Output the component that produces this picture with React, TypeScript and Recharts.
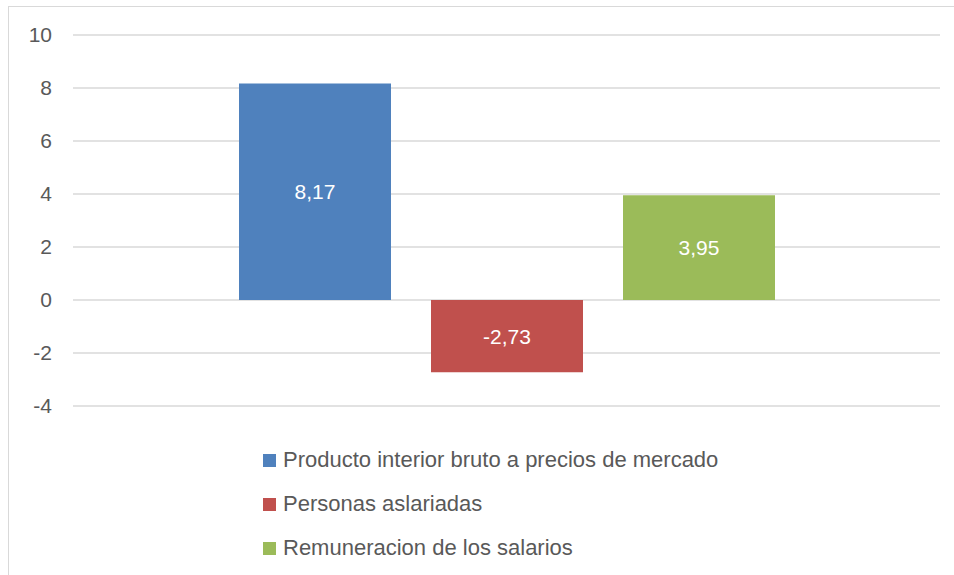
import React from 'react';
import { BarChart, Bar, XAxis, YAxis, CartesianGrid, Legend, LabelList } from 'recharts';

const categories = [''];
const seriesNames = [
  'Producto interior bruto a precios de mercado',
  'Personas aslariadas',
  'Remuneracion de los salarios',
];
const seriesValues = [8.17, -2.73, 3.95];
const seriesColors = ['#4F81BD', '#C0504D', '#9BBB59'];
const yTicks = [-4, -2, 0, 2, 4, 6, 8, 10];

const data = categories.map((c) => {
  const row: Record<string, any> = { name: c };
  seriesNames.forEach((s, i) => {
    row['s' + i] = seriesValues[i];
  });
  return row;
});

const FONT = '"Liberation Sans", Arial, sans-serif';

const fmt = (v: any) => String(v).replace('.', ',');

const LegendContent = (props: any) => {
  const payload = [...(props.payload || [])].sort(
    (a: any, b: any) => seriesNames.indexOf(a.value) - seriesNames.indexOf(b.value)
  );
  return (
    <div style={{ fontFamily: FONT }}>
      {payload.map((p: any, i: number) => (
        <div key={i} style={{ display: 'flex', alignItems: 'center', height: 44 }}>
          <div style={{ width: 13, height: 13, background: p.color, marginRight: 7 }} />
          <span style={{ fontSize: 22, color: '#595959' }}>{p.value}</span>
        </div>
      ))}
    </div>
  );
};

export default function App() {
  return (
    <div
      style={{
        position: 'absolute',
        left: 8,
        top: 6,
        width: 960,
        height: 580,
        border: '1px solid #d9d9d9',
        background: '#fff',
        boxSizing: 'border-box',
      }}
    >
      <BarChart
        width={946}
        height={567}
        data={data}
        margin={{ top: 28, right: 15, bottom: 168, left: 14 }}
        barSize={152}
        barGap={40}
        style={{ fontFamily: FONT }}
      >
        <CartesianGrid vertical={false} stroke="#d9d9d9" strokeWidth={1.5} />
        <XAxis dataKey="name" hide />
        <YAxis
          domain={[-4, 10]}
          ticks={yTicks}
          axisLine={false}
          tickLine={false}
          tickSize={0}
          tickMargin={21}
          width={50}
          interval={0}
          tick={{ fill: '#595959', fontSize: 21, fontFamily: FONT }}
        />
        <Legend
          layout="vertical"
          align="center"
          verticalAlign="middle"
          content={<LegendContent />}
          wrapperStyle={{ left: 254, top: 431, width: 650 }}
        />
        {seriesNames.map((s, i) => (
          <Bar key={s} dataKey={'s' + i} name={s} fill={seriesColors[i]} isAnimationActive={false}>
            <LabelList
              dataKey={'s' + i}
              position="center"
              formatter={fmt}
              fill="#ffffff"
              style={{ fontSize: 21, fontFamily: FONT }}
            />
          </Bar>
        ))}
      </BarChart>
    </div>
  );
}
